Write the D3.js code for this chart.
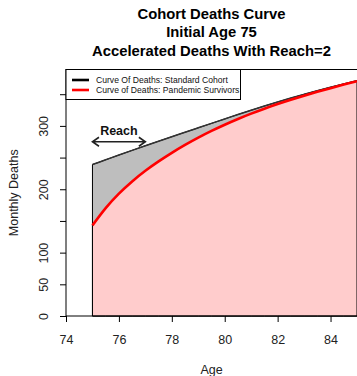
<!DOCTYPE html>
<html>
<head>
<meta charset="utf-8">
<script src="https://cdn.jsdelivr.net/npm/d3@7"></script>
<style>
  body { margin: 0; background: #fff; }
  svg { display: block; font-family: "Liberation Sans", Arial, sans-serif; }
</style>
</head>
<body>
<script>
// data
const ages = [75, 75.5, 76, 76.5, 77, 77.5, 78, 78.5, 79, 79.5, 80,
              80.5, 81, 81.5, 82, 82.5, 83, 83.5, 84, 84.5, 85];
const standardDeaths = [239, 246.5, 254, 261.4, 268.7, 275.9, 283, 290, 297, 304, 311,
                        318, 324.8, 331.4, 337.8, 343.9, 349.8, 355.6, 361.1, 366.3, 371.3];
const pandemicDeaths = [143, 170.3, 193.1, 212.4, 229.2, 244, 257.5, 270, 281.5, 292.1, 301.9,
                        311, 319.4, 327.2, 334.5, 341.3, 347.7, 353.8, 359.6, 365.2, 370.6];

const xTicks = [74, 76, 78, 80, 82, 84];
const yTicks = [0, 50, 100, 150, 200, 250, 300, 350];
const yTickLabels = ["0", "50", "100", "", "200", "", "300", ""];

const titleLines = ["Cohort Deaths Curve", "Initial Age 75", "Accelerated Deaths With Reach=2"];
const legendLabels = ["Curve Of Deaths: Standard Cohort", "Curve of Deaths: Pandemic Survivors"];
const legendColors = ["#000", "#ff0000"];
const reachFrom = 75, reachTo = 77, reachLevel = 275;

const width = 357, height = 376;
const plotLeft = 66, plotRight = 357, plotTop = 69.5, plotBottom = 316;

const svg = d3.select("body").append("svg")
    .attr("width", width)
    .attr("height", height);

const x = d3.scaleLinear().domain([74, 85]).range([plotLeft, plotRight]);
const y = d3.scaleLinear().domain([0, 389]).range([plotBottom, plotTop]);

const std = ages.map((a, i) => [a, standardDeaths[i]]);
const pan = ages.map((a, i) => [a, pandemicDeaths[i]]);

const curve = d3.curveMonotoneX;

const area = d3.area()
    .x(d => x(d[0]))
    .y0(y(0))
    .y1(d => y(d[1]))
    .curve(curve);

const line = d3.line()
    .x(d => x(d[0]))
    .y(d => y(d[1]))
    .curve(curve);

        //standard cohort, gray
svg.append("path")
    .attr("d", area(std))
    .attr("fill", "#bebebe")
    .attr("stroke", "#000")
    .attr("stroke-width", 1);

svg.append("path")
    .attr("d", line(std))
    .attr("fill", "none")
    .attr("stroke", "#333")
    .attr("stroke-width", 1.5);

        //pandemic survivors, pink
svg.append("path")
    .attr("d", area(pan))
    .attr("fill", "#ffcccc")
    .attr("stroke", "#000")
    .attr("stroke-width", 1);

svg.append("path")
    .attr("d", line(pan))
    .attr("fill", "none")
    .attr("stroke", "#ff0000")
    .attr("stroke-width", 2.6);

        //reach arrow
const ay = y(reachLevel);
const x1 = x(reachFrom), x2 = x(reachTo);
svg.append("path")
    .attr("d", `M${x1},${ay}H${x2}M${x1 + 6.5},${ay - 4.5}L${x1},${ay}L${x1 + 6.5},${ay + 4.5}` +
               `M${x2 - 6.5},${ay - 4.5}L${x2},${ay}L${x2 - 6.5},${ay + 4.5}`)
    .attr("fill", "none")
    .attr("stroke", "#222")
    .attr("stroke-width", 1.6);

svg.append("text")
    .attr("x", x((reachFrom + reachTo) / 2))
    .attr("y", ay - 6.5)
    .attr("text-anchor", "middle")
    .attr("font-weight", "bold")
    .attr("font-size", 12.5)
    .attr("fill", "#111")
    .text("Reach");

        //axes
const xAxis = svg.append("g")
    .attr("transform", `translate(0,${plotBottom})`)
    .call(d3.axisBottom(x).tickValues(xTicks).tickSize(6).tickSizeOuter(0).tickFormat(d3.format("d")));
xAxis.select(".domain").remove();
xAxis.selectAll("text")
    .attr("y", 28)
    .attr("dy", 0)
    .attr("font-size", 12.5)
    .attr("font-family", "Liberation Sans, Arial, sans-serif")
    .attr("fill", "#222");

const yAxis = svg.append("g")
    .attr("transform", `translate(${plotLeft},0)`)
    .call(d3.axisLeft(y).tickValues(yTicks).tickSize(6).tickSizeOuter(0)
        .tickFormat((d, i) => yTickLabels[i]));
yAxis.select(".domain").remove();
yAxis.selectAll("text")
    .attr("transform", "rotate(-90)")
    .attr("x", 0)
    .attr("y", -18)
    .attr("dy", 0)
    .attr("text-anchor", "middle")
    .attr("font-size", 12.5)
    .attr("font-family", "Liberation Sans, Arial, sans-serif")
    .attr("fill", "#222");

        //plot box
svg.append("rect")
    .attr("x", plotLeft)
    .attr("y", plotTop)
    .attr("width", plotRight - plotLeft + 5)
    .attr("height", plotBottom - plotTop)
    .attr("fill", "none")
    .attr("stroke", "#000")
    .attr("stroke-width", 1);

        //legend
const lg = svg.append("g");
lg.append("rect")
    .attr("x", plotLeft)
    .attr("y", plotTop)
    .attr("width", 174.5)
    .attr("height", 30)
    .attr("fill", "#fff")
    .attr("stroke", "#000");

legendLabels.forEach((label, i) => {
    const ly = 80 + i * 10;
    lg.append("line")
        .attr("x1", 72).attr("x2", 89)
        .attr("y1", ly).attr("y2", ly)
        .attr("stroke", legendColors[i])
        .attr("stroke-width", 2.6);
    lg.append("text")
        .attr("x", 96)
        .attr("y", ly + 3)
        .attr("font-size", 8.6)
        .attr("fill", "#111")
        .text(label);
});

        //titles
svg.selectAll(".title")
    .data(titleLines)
    .enter()
    .append("text")
        .attr("class", "title")
        .attr("x", (plotLeft + plotRight) / 2)
        .attr("y", (d, i) => 18.5 + i * 18.5)
        .attr("text-anchor", "middle")
        .attr("font-weight", "bold")
        .attr("font-size", 14.8)
        .text(d => d);

svg.append("text")
    .attr("transform", `translate(18,${(plotTop + plotBottom) / 2}) rotate(-90)`)
    .attr("text-anchor", "middle")
    .attr("font-size", 12.5)
    .attr("fill", "#222")
    .text("Monthly Deaths");

svg.append("text")
    .attr("x", (plotLeft + plotRight) / 2)
    .attr("y", 374)
    .attr("text-anchor", "middle")
    .attr("font-size", 12.5)
    .attr("fill", "#222")
    .text("Age");
</script>
</body>
</html>
